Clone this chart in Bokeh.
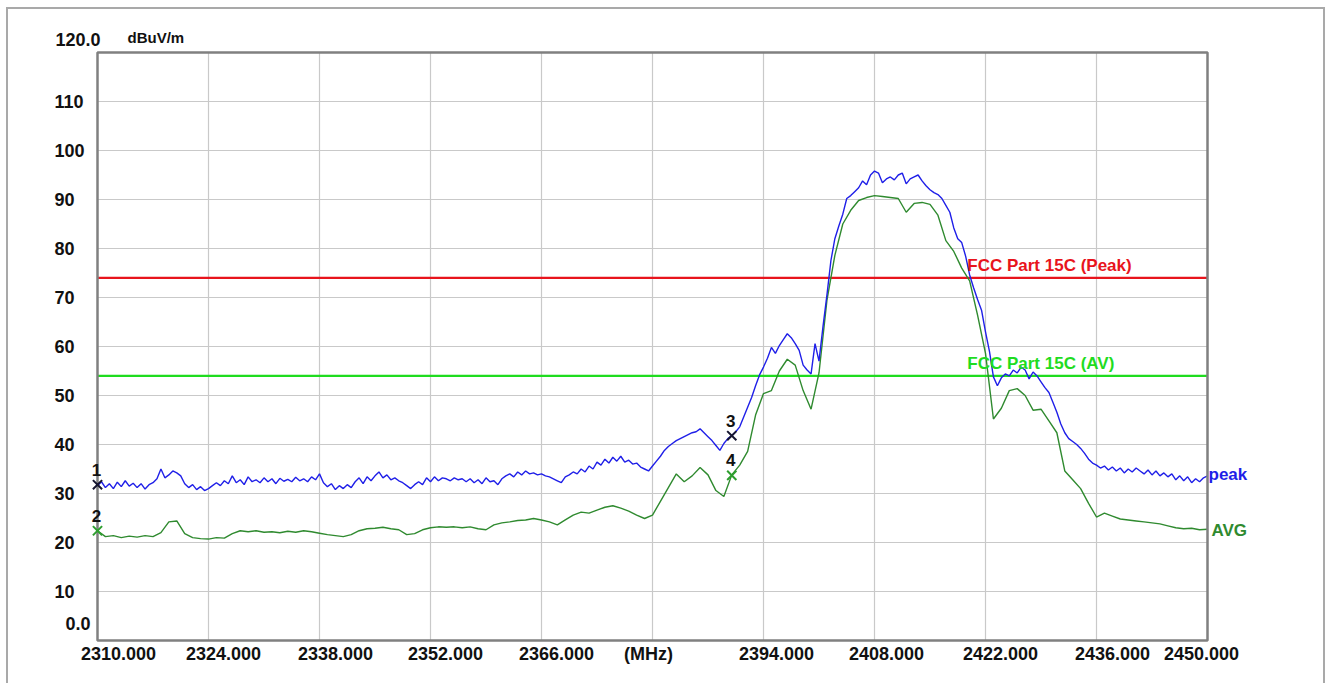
import numpy as np
from bokeh.plotting import figure
from bokeh.models import Label, LabelSet, ColumnDataSource
from bokeh.core.properties import value
from bokeh.embed import file_html
from bokeh.resources import INLINE

# ---------------- data ----------------
FREQ_START = 2310.0
FREQ_STOP = 2450.0
PEAK_STEP = 0.5   # MHz between peak samples
AVG_STEP = 1.0    # MHz between average samples

# peak trace (dBuV/m), every 0.5 MHz from 2310 to 2450
peak_dbuv = [
    31.6, 32.4, 31.2, 32.0, 31.0, 32.3, 31.4, 32.6, 31.5, 32.1,
    31.2, 32.0, 30.9, 31.8, 32.2, 33.0, 35.0, 33.2, 33.8, 34.6,
    34.2, 33.6, 32.0, 31.2, 31.8, 30.8, 31.4, 30.6, 31.0, 31.6,
    32.2, 31.6, 32.6, 32.0, 33.6, 32.2, 32.8, 31.8, 33.4, 32.4,
    32.8, 32.2, 33.2, 32.4, 33.0, 32.0, 33.1, 32.5, 32.9, 32.4,
    33.3, 32.6, 33.0, 32.4, 33.4, 32.8, 34.0, 32.2, 31.4, 32.0,
    30.8, 31.6, 31.0, 31.8, 31.2, 32.4, 33.2, 32.0, 33.4, 32.6,
    33.6, 34.4, 33.2, 33.8, 32.8, 33.2, 32.6, 32.2, 31.6, 31.0,
    31.8, 32.4, 31.8, 33.2, 32.4, 33.4, 32.6, 33.2, 33.0, 32.6,
    33.2, 32.8, 33.0, 32.4, 33.0, 32.2, 32.8, 32.0, 33.2, 32.4,
    32.6, 31.8, 33.0, 33.6, 34.0, 33.4, 34.4, 33.8, 34.6, 34.0,
    34.2, 33.8, 34.0, 33.6, 33.4, 33.0, 32.6, 32.2, 33.4, 33.8,
    34.4, 34.0, 35.0, 34.4, 35.6, 35.0, 36.4, 35.8, 37.0, 36.2,
    37.4, 36.6, 37.6, 36.4, 36.8, 36.0, 36.2, 35.4, 35.0, 34.6,
    35.6, 36.6, 37.6, 38.8, 39.6, 40.2, 40.8, 41.2, 41.6, 42.0,
    42.4, 42.6, 43.2, 42.4, 41.6, 40.8, 39.8, 38.8, 40.2, 41.2,
    41.8, 42.6, 43.6, 45.6, 47.6, 49.6, 52.0, 54.2, 55.8, 57.6,
    59.8, 58.6, 60.2, 61.4, 62.6, 61.8, 60.6, 59.2, 56.2, 55.2,
    54.4, 60.6, 57.0, 64.0, 70.5, 77.5, 82.0, 84.6, 87.0, 90.2,
    90.8, 91.6, 92.4, 93.8, 93.0, 95.0, 95.8, 95.4, 93.4, 94.2,
    94.6, 94.0, 95.0, 95.4, 93.2, 94.2, 94.6, 95.0, 93.8, 92.8,
    92.0, 91.4, 91.0, 90.2, 88.8, 87.4, 84.2, 82.0, 81.2, 78.4,
    74.6, 72.0, 69.6, 67.4, 63.0, 59.0, 53.8, 52.0, 53.6, 54.4,
    54.0, 55.2, 54.6, 55.8, 55.2, 53.4, 54.8, 54.0, 52.8, 51.6,
    50.6, 48.6, 46.6, 44.2, 42.4, 41.2, 40.6, 40.0, 39.2, 38.2,
    37.0, 36.2, 35.8, 35.2, 35.6, 34.8, 35.4, 34.6, 35.2, 34.2,
    35.0, 34.4, 35.2, 34.6, 34.0, 34.8, 33.8, 34.6, 33.6, 34.2,
    33.4, 34.0, 32.8, 33.6, 32.6, 33.4, 32.2, 33.0, 32.4, 33.2,
    33.6,
]

# average trace (dBuV/m), every 1 MHz from 2310 to 2450
avg_dbuv = [
    22.4, 21.2, 21.4, 21.0, 21.3, 21.1, 21.4, 21.2, 22.0, 24.2,
    24.4, 21.8, 21.0, 20.8, 20.7, 21.0, 20.9, 21.8, 22.4, 22.2,
    22.4, 22.1, 22.2, 22.0, 22.3, 22.1, 22.4, 22.2, 21.9, 21.6,
    21.4, 21.2, 21.6, 22.4, 22.8, 22.9, 23.1, 22.8, 22.6, 21.6,
    21.8, 22.6, 23.0, 23.2, 23.1, 23.2, 23.0, 23.2, 22.8, 22.6,
    23.6, 24.0, 24.2, 24.5, 24.6, 24.9, 24.6, 24.2, 23.6, 24.6,
    25.6, 26.2, 26.0, 26.6, 27.2, 27.5, 27.0, 26.4, 25.6, 24.9,
    25.6, 28.4, 31.2, 34.0, 32.4, 33.6, 35.3, 33.8, 30.6, 29.4,
    33.8, 35.8, 38.6, 46.0, 50.4, 51.0, 55.0, 57.4, 56.2, 51.0,
    47.2, 54.6, 69.4, 78.6, 85.0, 87.8, 89.8, 90.4, 90.8, 90.6,
    90.4, 90.2, 87.4, 89.2, 89.4, 89.0, 86.8, 81.6, 79.4, 76.0,
    73.4, 66.4, 58.6, 45.2, 47.4, 51.0, 51.4, 50.0, 47.0, 47.2,
    44.8, 42.4, 34.6, 32.8, 31.0, 28.0, 25.2, 26.0, 25.4, 24.8,
    24.6, 24.4, 24.2, 24.0, 23.8, 23.4, 23.0, 22.8, 22.9, 22.6,
    22.7,
]

x_ticks = [2310, 2324, 2338, 2352, 2366, 2380, 2394, 2408, 2422, 2436, 2450]
x_tick_labels = ["2310.000", "2324.000", "2338.000", "2352.000", "2366.000",
                 "(MHz)", "2394.000", "2408.000", "2422.000", "2436.000", "2450.000"]
y_ticks = [10, 20, 30, 40, 50, 60, 70, 80, 90, 100, 110]
y_tick_labels = ["10", "20", "30", "40", "50", "60", "70", "80", "90", "100", "110"]
Y_MIN, Y_MAX = 0.0, 120.0
y_min_label = "0.0"
y_max_label = "120.0"
unit_label = "dBuV/m"

limit_peak = 74.0
limit_avg = 54.0
limit_peak_name = "FCC Part 15C (Peak)"
limit_avg_name = "FCC Part 15C (AV)"
limit_name_freq = 2419.7
peak_name = "peak"
avg_name = "AVG"

marker_ids = ["1", "2", "3", "4"]
marker_freq = [2310.0, 2310.0, 2390.0, 2390.0]
marker_level = [31.8, 22.4, 41.8, 33.7]

# ---------------- styles / layout ----------------
FONT = "Liberation Sans"
TXT = "#111111"
PEAK_COLOR = "#1f1fe8"
AVG_COLOR = "#2f8a2f"
RED = "#e8141c"
GREEN = "#1fdc1f"
GRID = "#c9c9c9"
FRAME = "#808080"
marker_colors = ["#151530", "#2e9e2e", "#151530", "#2e9e2e"]
x_label_offsets = [21, 15, 16, 15, 15, -4, 13, 12, 15, 16, -6]

# canvas geometry (pixels); the chart box sits inside a wider drawing area so
# that texts around it are not clipped
CANVAS_W, CANVAS_H = 1319, 676
BOX_L, BOX_R, BOX_T, BOX_B = 89, 1199, 43, 631
px_x = (BOX_R - BOX_L) / (FREQ_STOP - FREQ_START)
px_y = (BOX_B - BOX_T) / (Y_MAX - Y_MIN)
x_range = (FREQ_START - BOX_L / px_x, FREQ_STOP + (CANVAS_W - BOX_R) / px_x)
y_range = (Y_MIN - (CANVAS_H - BOX_B) / px_y, Y_MAX + BOX_T / px_y)

peak_freq = FREQ_START + PEAK_STEP * np.arange(len(peak_dbuv))
avg_freq = FREQ_START + AVG_STEP * np.arange(len(avg_dbuv))

p = figure(width=CANVAS_W, height=CANVAS_H, output_backend="svg", toolbar_location=None,
           x_range=x_range, y_range=y_range, x_axis_type=None, y_axis_type=None,
           min_border=0, background_fill_color="white", border_fill_color="white")
p.outline_line_color = None
p.xgrid.visible = False
p.ygrid.visible = False
p.styles = {"margin-left": "6px", "margin-top": "7px",
            "border-top": "2px solid #a9a9a9", "border-left": "2px solid #a9a9a9",
            "border-right": "2px solid #a9a9a9"}

# grid
inner_x = x_ticks[1:-1]
p.segment(x0=inner_x, y0=[Y_MIN] * len(inner_x), x1=inner_x, y1=[Y_MAX] * len(inner_x),
          line_color=GRID, line_width=1.2)
p.segment(x0=[FREQ_START] * len(y_ticks), y0=y_ticks, x1=[FREQ_STOP] * len(y_ticks), y1=y_ticks,
          line_color=GRID, line_width=1.2)

# limit lines
p.line([FREQ_START, FREQ_STOP], [limit_peak, limit_peak], line_color=RED, line_width=2.2)
p.line([FREQ_START, FREQ_STOP], [limit_avg, limit_avg], line_color=GREEN, line_width=2.2)

# traces
p.line(avg_freq, avg_dbuv, line_color=AVG_COLOR, line_width=1.4)
p.line(peak_freq, peak_dbuv, line_color=PEAK_COLOR, line_width=1.4)

# chart box
p.quad(left=[FREQ_START], right=[FREQ_STOP], bottom=[Y_MIN], top=[Y_MAX],
       fill_color=None, line_color=FRAME, line_width=2.5)

# markers
msrc = ColumnDataSource(dict(x=marker_freq, y=marker_level, t=marker_ids, c=marker_colors))
p.scatter("x", "y", source=msrc, marker="x", size=13, line_width=2, line_color="c")
p.add_layout(LabelSet(x="x", y="y", text="t", source=msrc, text_align="center",
                      text_baseline="middle", y_offset=15, x_offset=-1,
                      text_font=value(FONT), text_font_style="bold",
                      text_font_size=value("17px"), text_color=TXT))


def lab(x, y, text, xo=0, yo=0, align="left", size="18px", color=TXT):
    p.add_layout(Label(x=x, y=y, text=text, x_offset=xo, y_offset=yo,
                       text_align=align, text_baseline="middle",
                       text_font=FONT, text_font_style="bold",
                       text_font_size=size, text_color=color))


# x tick labels
for xt, tl, xo in zip(x_ticks, x_tick_labels, x_label_offsets):
    lab(xt, Y_MIN, tl, xo=xo, yo=-13, align="center")

# y tick labels
for yt, tl in zip(y_ticks, y_tick_labels):
    lab(FREQ_START, yt, tl, xo=-43)
lab(FREQ_START, Y_MAX, y_max_label, xo=-42, yo=13)
lab(FREQ_START, Y_MIN, y_min_label, xo=-32, yo=17)
lab(FREQ_START, Y_MAX, unit_label, xo=30, yo=15, size="15px")

# limit names
lab(limit_name_freq, limit_peak, limit_peak_name, yo=12, size="17px", color=RED)
lab(limit_name_freq, limit_avg, limit_avg_name, yo=12, size="17px", color=GREEN)

# trace names
lab(FREQ_STOP, peak_dbuv[-1], peak_name, xo=1, yo=1, size="17px", color=PEAK_COLOR)
lab(FREQ_STOP, avg_dbuv[-1], avg_name, xo=4, yo=-1, size="17px", color=AVG_COLOR)

open("out.html", "w").write(file_html(p, INLINE))
